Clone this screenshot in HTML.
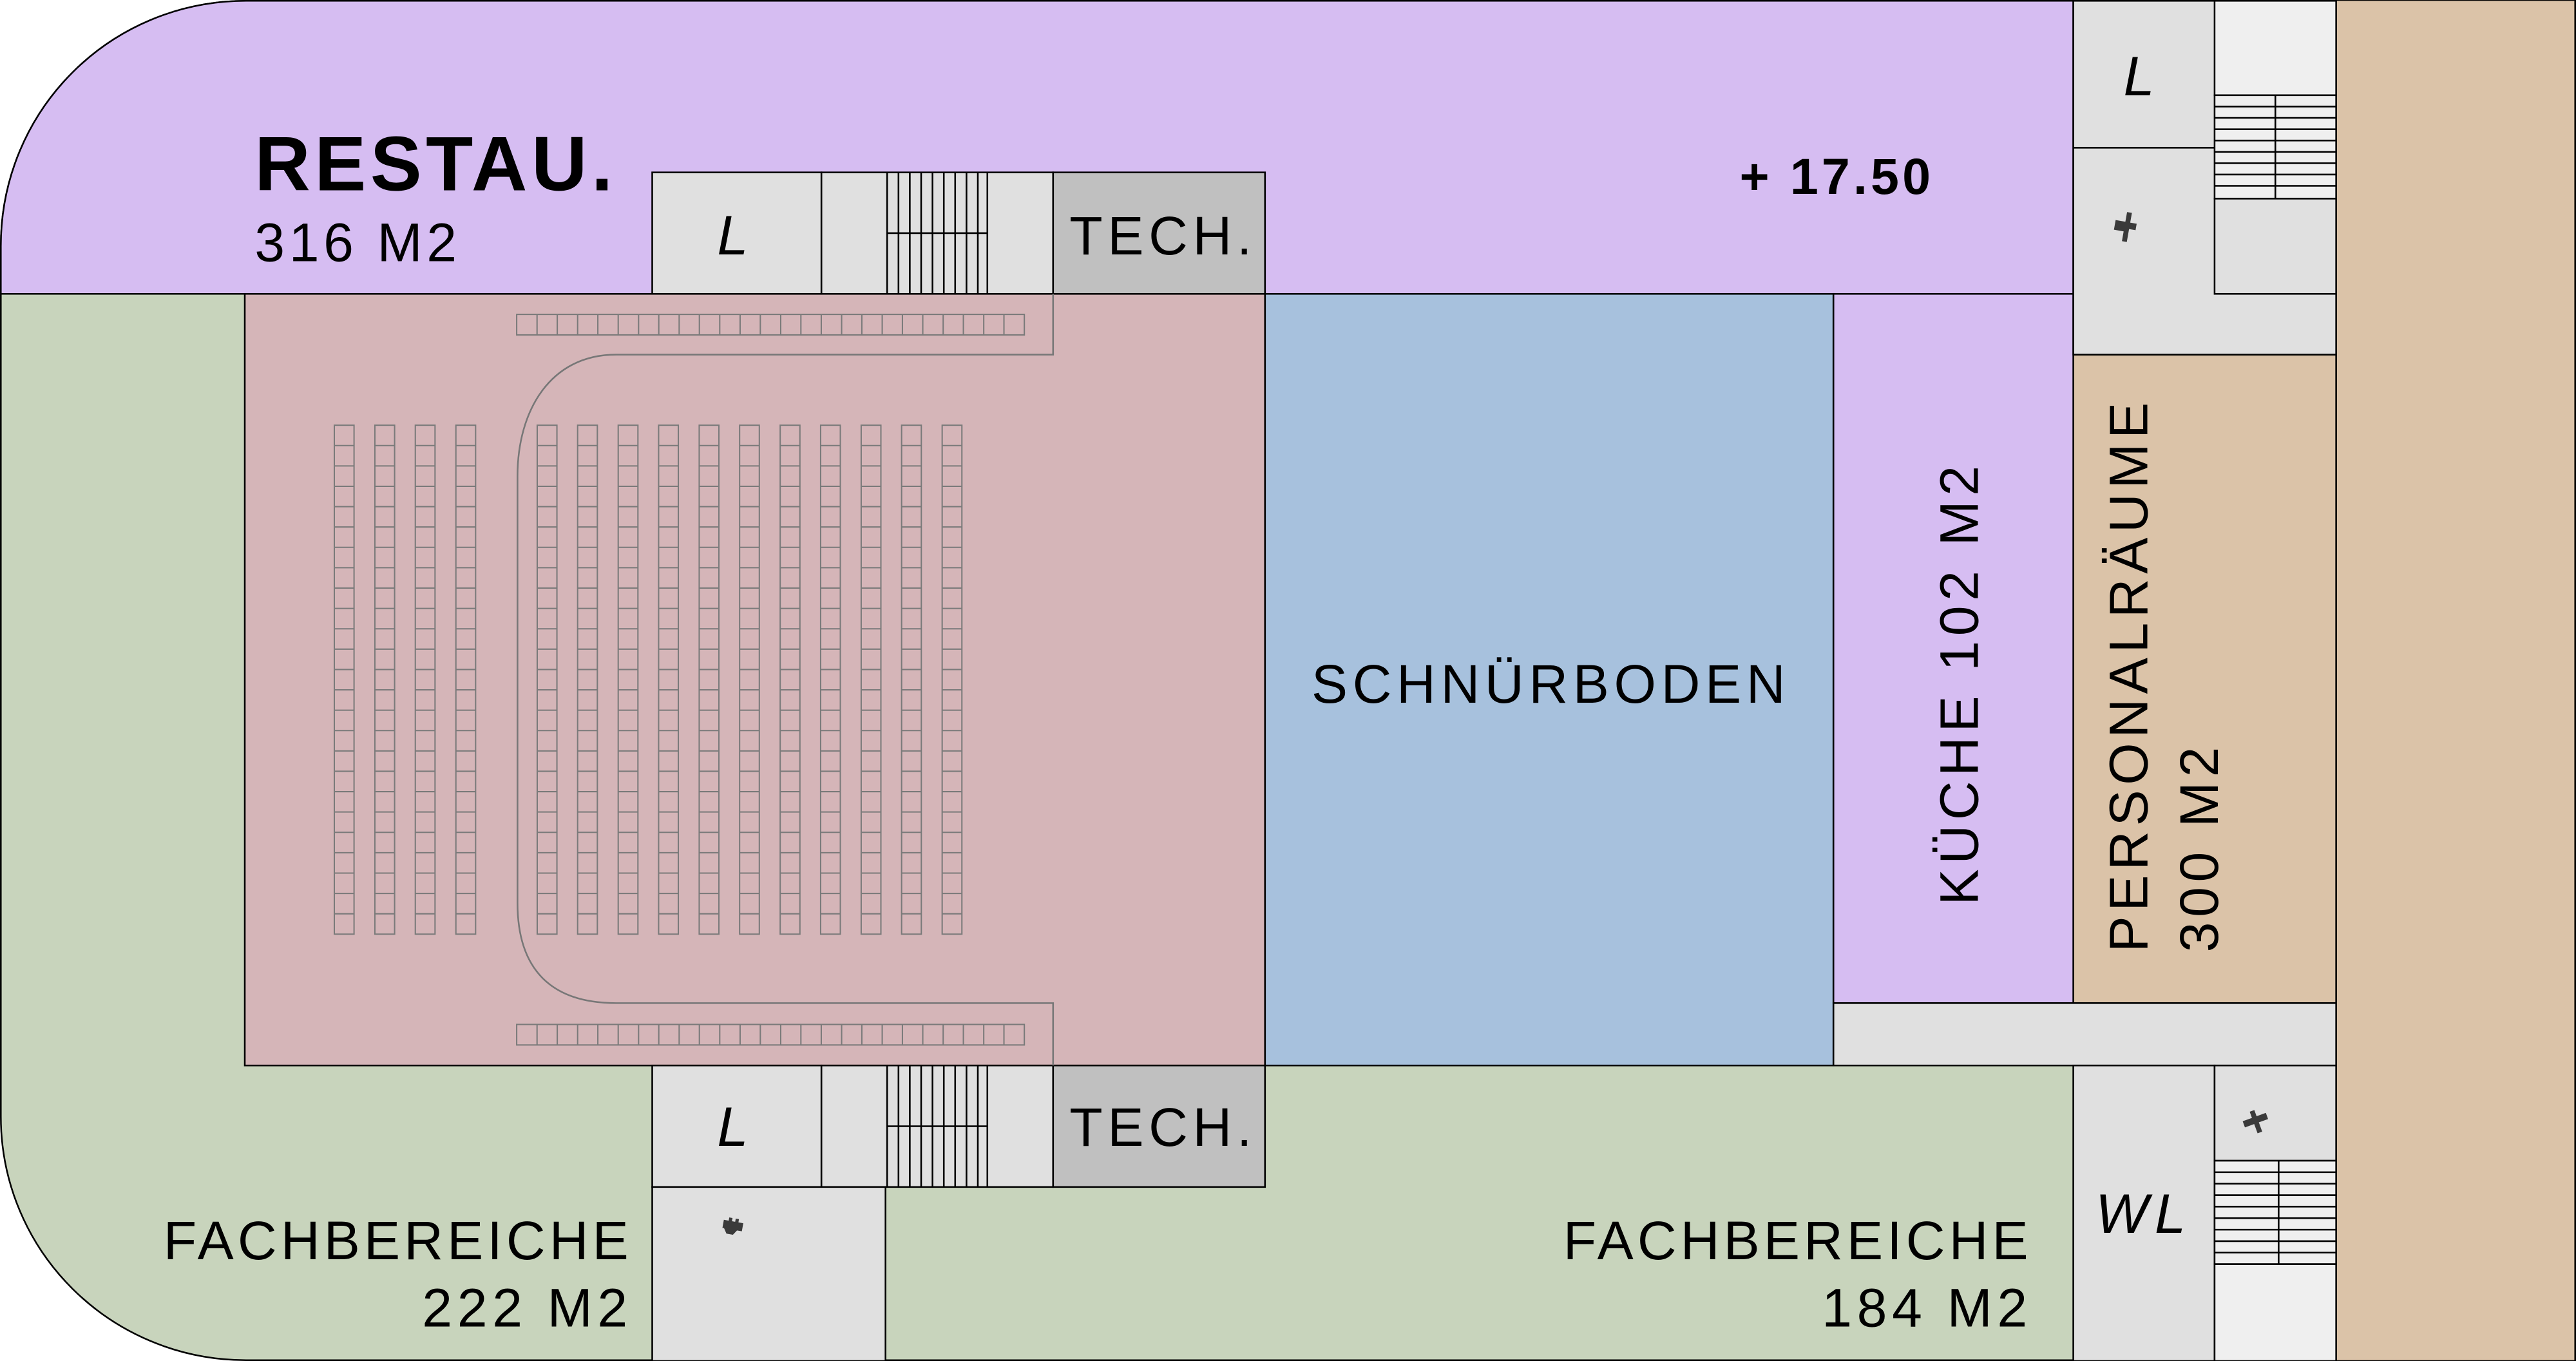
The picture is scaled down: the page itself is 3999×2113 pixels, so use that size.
<!DOCTYPE html>
<html><head><meta charset="utf-8"><style>
html,body{margin:0;padding:0;background:#fff}
svg{display:block}
text{font-family:"Liberation Sans",sans-serif;fill:#000}
</style></head><body>
<svg width="3999" height="2113" viewBox="0 0 1568 829" preserveAspectRatio="none" xmlns="http://www.w3.org/2000/svg">
<g stroke="#000" stroke-width="1">
<path d="M150,0.5 H1567.5 V828.5 H150 C67,828.5 0.5,762 0.5,680 V150 C0.5,67 67,0.5 150,0.5 Z" fill="#c8d4bc"/>
<path d="M150,0.5 H1262 V179 H0.5 V150 C0.5,67 67,0.5 150,0.5 Z" fill="#d6bdf2"/>
<rect x="1422" y="0.5" width="145.5" height="828" fill="#dbc3a8" stroke="none"/>
<rect x="1262" y="216" width="160" height="395" fill="#dbc3a8"/>
<line x1="1567.5" y1="0" x2="1567.5" y2="829"/>
<rect x="149" y="179" width="621" height="470" fill="#d5b5b8"/>
<rect x="770" y="179" width="346" height="470" fill="#a7c1dd"/>
<rect x="1116" y="179" width="146" height="432" fill="#d6bdf2"/>
<rect x="1116" y="611" width="306" height="38" fill="#e0e0e0"/>
<rect x="397" y="105" width="103" height="74" fill="#e0e0e0"/>
<rect x="500" y="105" width="141" height="74" fill="#e0e0e0"/>
<rect x="641" y="105" width="129" height="74" fill="#c0c0c0"/>
<rect x="397" y="649" width="103" height="74" fill="#e0e0e0"/>
<rect x="500" y="649" width="141" height="74" fill="#e0e0e0"/>
<rect x="641" y="649" width="129" height="74" fill="#c0c0c0"/>
<rect x="397" y="723" width="142" height="106" fill="#e0e0e0"/>
<rect x="1262" y="0.5" width="160" height="215.5" fill="#e0e0e0"/>
<line x1="1262" y1="90" x2="1348" y2="90"/>
<rect x="1348" y="0.5" width="74" height="57.5" fill="#efefef"/>
<rect x="1348" y="58" width="74" height="63" fill="#efefef"/>
<rect x="1348" y="121" width="74" height="58" fill="#e0e0e0"/>
<rect x="1262" y="649" width="86" height="180" fill="#e0e0e0"/>
<rect x="1348" y="649" width="74" height="58" fill="#e0e0e0"/>
<rect x="1348" y="707" width="74" height="63" fill="#efefef"/>
<rect x="1348" y="770" width="74" height="59" fill="#efefef"/>
</g>
<g stroke="#000" stroke-width="1">
<path d="M540,105V179M546.9,105V179M553.8,105V179M560.7,105V179M567.6,105V179M574.5,105V179M581.4,105V179M588.3,105V179M595.2,105V179M601,105V179M540,142H601"/>
<path d="M540,649V723M546.9,649V723M553.8,649V723M560.7,649V723M567.6,649V723M574.5,649V723M581.4,649V723M588.3,649V723M595.2,649V723M601,649V723M540,686H601"/>
<path d="M1348,64.9H1422M1348,71.8H1422M1348,78.7H1422M1348,85.6H1422M1348,92.5H1422M1348,99.4H1422M1348,106.3H1422M1348,113.2H1422M1385,58V121"/>
<path d="M1348,714H1422M1348,721H1422M1348,728H1422M1348,735H1422M1348,742H1422M1348,749H1422M1348,756H1422M1348,763H1422M1387,707V770"/>
</g>
<path d="M641,179 V216 H375 C335,216 315,250 315,290 V550 C315,590 335,611 375,611 H641 V649" fill="none" stroke="#777" stroke-width="1"/>
<g fill="none" stroke="#7a7a7a" stroke-width="0.8">
<rect x="314.5" y="191.5" width="309" height="12.5"/>
<rect x="314.5" y="624" width="309" height="12.5"/>
<path id="vt" d="M326.9,191.5V204M339.2,191.5V204M351.6,191.5V204M363.9,191.5V204M376.3,191.5V204M388.7,191.5V204M401,191.5V204M413.4,191.5V204M425.7,191.5V204M438.1,191.5V204M450.5,191.5V204M462.8,191.5V204M475.2,191.5V204M487.5,191.5V204M499.9,191.5V204M512.3,191.5V204M524.6,191.5V204M537,191.5V204M549.3,191.5V204M561.7,191.5V204M574.1,191.5V204M586.4,191.5V204M598.8,191.5V204M611.1,191.5V204"/>
<use href="#vt" y="432.5"/>
</g>
<g fill="none" stroke="#7a7a7a" stroke-width="0.8">
<rect x="203.5" y="259" width="12" height="310"/>
<rect x="228.2" y="259" width="12" height="310"/>
<rect x="252.8" y="259" width="12" height="310"/>
<rect x="277.5" y="259" width="12" height="310"/>
<rect x="327" y="259" width="12" height="310"/>
<rect x="351.6" y="259" width="12" height="310"/>
<rect x="376.3" y="259" width="12" height="310"/>
<rect x="400.9" y="259" width="12" height="310"/>
<rect x="425.6" y="259" width="12" height="310"/>
<rect x="450.2" y="259" width="12" height="310"/>
<rect x="474.9" y="259" width="12" height="310"/>
<rect x="499.5" y="259" width="12" height="310"/>
<rect x="524.2" y="259" width="12" height="310"/>
<rect x="548.8" y="259" width="12" height="310"/>
<rect x="573.5" y="259" width="12" height="310"/>
<path id="hl" d="M203.5,271.4H289.5M203.5,283.8H289.5M203.5,296.2H289.5M203.5,308.6H289.5M203.5,321H289.5M203.5,333.4H289.5M203.5,345.8H289.5M203.5,358.2H289.5M203.5,370.6H289.5M203.5,383H289.5M203.5,395.4H289.5M203.5,407.8H289.5M203.5,420.2H289.5M203.5,432.6H289.5M203.5,445H289.5M203.5,457.4H289.5M203.5,469.8H289.5M203.5,482.2H289.5M203.5,494.6H289.5M203.5,507H289.5M203.5,519.4H289.5M203.5,531.8H289.5M203.5,544.2H289.5M203.5,556.6H289.5" stroke-dasharray="12 12.65"/>
<path d="M327,271.4H585.5M327,283.8H585.5M327,296.2H585.5M327,308.6H585.5M327,321H585.5M327,333.4H585.5M327,345.8H585.5M327,358.2H585.5M327,370.6H585.5M327,383H585.5M327,395.4H585.5M327,407.8H585.5M327,420.2H585.5M327,432.6H585.5M327,445H585.5M327,457.4H585.5M327,469.8H585.5M327,482.2H585.5M327,494.6H585.5M327,507H585.5M327,519.4H585.5M327,531.8H585.5M327,544.2H585.5M327,556.6H585.5" stroke-dasharray="12 12.65"/>
</g>
<g fill="#3a3a3a">
<path d="M1287,135h6v-6h3v6h4v4h-4v8h-3v-6h-6z" transform="rotate(10 1293 139)"/>
<path d="M1366,680h6v-4h3v4h6v4h-6v6h-3v-6h-6z" transform="rotate(-20 1374 684)"/>
<path d="M440,744h3v-2h2v2h2v-2h2v2h3v5h-3l-2,3h-4l-2,-3h-1z" transform="rotate(10 446 747)"/>
</g>
<text x="155" y="116" font-size="47" font-weight="bold" letter-spacing="4" textLength="222">RESTAU.</text>
<text x="155" y="159" font-size="33" letter-spacing="3" textLength="126">316 M2</text>
<text x="446" y="155" font-size="34" font-style="italic" text-anchor="middle">L</text>
<text x="446" y="698" font-size="34" font-style="italic" text-anchor="middle">L</text>
<text x="1302" y="58" font-size="34" font-style="italic" text-anchor="middle">L</text>
<text x="1305" y="751" font-size="34" font-style="italic" text-anchor="middle" letter-spacing="4">WL</text>
<text x="651" y="155" font-size="33" letter-spacing="3">TECH.</text>
<text x="651" y="698" font-size="33" letter-spacing="3">TECH.</text>
<text x="1118" y="118" font-size="31" font-weight="bold" text-anchor="middle" letter-spacing="2">+ 17.50</text>
<text x="944" y="428" font-size="33" text-anchor="middle" letter-spacing="3">SCHNÜRBODEN</text>
<text transform="translate(1204,416) rotate(-90)" font-size="33" text-anchor="middle" letter-spacing="3">KÜCHE 102 M2</text>
<text transform="translate(1307,580) rotate(-90)" font-size="33" letter-spacing="3">PERSONALRÄUME</text>
<text transform="translate(1350,580) rotate(-90)" font-size="33" letter-spacing="3">300 M2</text>
<text x="385" y="767" font-size="33" text-anchor="end" letter-spacing="2.4">FACHBEREICHE</text>
<text x="385" y="808" font-size="33" text-anchor="end" letter-spacing="3">222 M2</text>
<text x="1237" y="767" font-size="33" text-anchor="end" letter-spacing="2.4">FACHBEREICHE</text>
<text x="1237" y="808" font-size="33" text-anchor="end" letter-spacing="3">184 M2</text>
</svg>
</body></html>
